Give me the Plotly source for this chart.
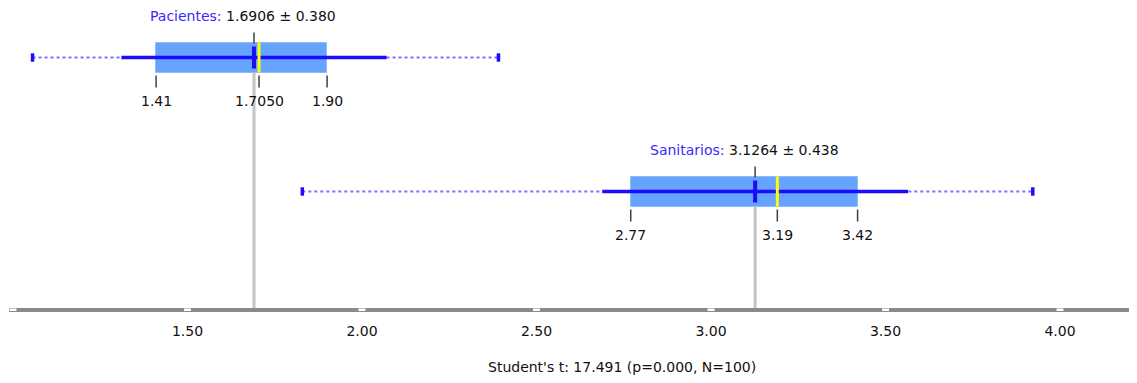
import plotly.graph_objects as go

# ---- data ----
groups = ["Pacientes", "Sanitarios"]
means = [1.6906, 3.1264]
sds = [0.380, 0.438]
q1 = [1.41, 2.77]
medians = [1.7050, 3.19]
q3 = [1.90, 3.42]
mins = [1.056, 1.829]
maxs = [2.391, 3.922]
q1_labels = ["1.41", "2.77"]
median_labels = ["1.7050", "3.19"]
q3_labels = ["1.90", "3.42"]
tick_vals = [1.0, 1.5, 2.0, 2.5, 3.0, 3.5, 4.0]
tick_text = ["", "1.50", "2.00", "2.50", "3.00", "3.50", "4.00"]
x_title = "Student's t: 17.491 (p=0.000, N=100)"

# ---- layout constants (page body has an 8px margin) ----
W, H = 1129, 375
ML, MR, MT, MB = 1, 0, 0, 75
PX = 134.0                       # pixels per y unit
ypos = [1, 0]
YMIN, YMAX = -0.8694, 1.3694
XRANGE = [0.98854, 4.2206]
FONT = "DejaVu Sans"
BLUE = "#1a0cff"
u = lambda p: p / PX

fig = go.Figure()

# grey vertical guide lines at the means
gx, gy = [], []
for m, y in zip(means, ypos):
    gx += [m, m, None]
    gy += [y - u(15), YMIN, None]
fig.add_trace(go.Scatter(x=gx, y=gy, mode="lines",
                         line=dict(color="#c4c4c4", width=3), hoverinfo="skip"))

# boxes (Q1..Q3)
fig.add_trace(go.Bar(orientation="h", base=q1,
                     x=[b - a for a, b in zip(q1, q3)], y=ypos,
                     width=u(30), marker=dict(color="#66a3ff",
                                              line=dict(color="#8cbcff", width=1)),
                     hoverinfo="skip"))

# dotted full range
dx, dy = [], []
for a, b, y in zip(mins, maxs, ypos):
    dx += [a, b, None]
    dy += [y, y, None]
fig.add_trace(go.Scatter(x=dx, y=dy, mode="lines",
                         line=dict(color="#7d70ff", width=2, dash="dot"),
                         hoverinfo="skip"))

# end markers
ex, ey = [], []
for a, b, y in zip(mins, maxs, ypos):
    ex += [a, b]
    ey += [y, y]
fig.add_trace(go.Scatter(x=ex, y=ey, mode="markers",
                         marker=dict(symbol="line-ns", size=6,
                                     line=dict(color=BLUE, width=3.5)),
                         hoverinfo="skip"))

# mean +- sd
sx, sy = [], []
for m, s, y in zip(means, sds, ypos):
    sx += [m - s, m + s, None]
    sy += [y, y, None]
fig.add_trace(go.Scatter(x=sx, y=sy, mode="lines",
                         line=dict(color=BLUE, width=3.5), hoverinfo="skip"))

# median (yellow)
mx, my = [], []
for md, y in zip(medians, ypos):
    mx += [md, md, None]
    my += [y - u(15), y + u(15), None]
fig.add_trace(go.Scatter(x=mx, y=my, mode="lines",
                         line=dict(color="#ffff00", width=3), hoverinfo="skip"))

# mean (blue vertical)
vx, vy = [], []
for m, y in zip(means, ypos):
    vx += [m, m, None]
    vy += [y - u(11), y + u(11), None]
fig.add_trace(go.Scatter(x=vx, y=vy, mode="lines",
                         line=dict(color=BLUE, width=4), hoverinfo="skip"))

# small dark ticks above mean and below q1/median/q3
tx, ty = [], []
for m, a, md, b, y in zip(means, q1, medians, q3, ypos):
    tx += [m, m, None]
    ty += [y + u(14), y + u(25), None]
    for v in (a, md, b):
        tx += [v, v, None]
        ty += [y - u(18), y - u(30), None]
fig.add_trace(go.Scatter(x=tx, y=ty, mode="lines",
                         line=dict(color="#404040", width=1.5), hoverinfo="skip"))

annotations = []
for g, m, s, y in zip(groups, means, sds, ypos):
    annotations.append(dict(
        x=m, y=y, xref="x", yref="y", showarrow=False, yshift=42, xshift=-11,
        text=f"<span style='color:#3c28ff'>{g}:</span> {m:.4f} ± {s:.3f}",
        font=dict(family=FONT, size=14, color="#111")))
for labs, vals in ((q1_labels, q1), (median_labels, medians), (q3_labels, q3)):
    for t, v, y in zip(labs, vals, ypos):
        annotations.append(dict(x=v, y=y, xref="x", yref="y", showarrow=False,
                                yshift=-43, text=t,
                                font=dict(family=FONT, size=14, color="#111")))
annotations.append(dict(x=(622 - 9) / 1128, y=0, xref="paper", yref="paper",
                        yanchor="middle", yshift=-59, showarrow=False, text=x_title,
                        font=dict(family=FONT, size=14, color="#111")))

# white tick notches on the axis bar
shapes = []
for tv in tick_vals:
    shapes.append(dict(type="rect", xref="x", yref="paper",
                       xsizemode="pixel", xanchor=tv, x0=-3.5, x1=3.5,
                       ysizemode="pixel", yanchor=0, y0=-0.5, y1=-3,
                       fillcolor="white", line=dict(width=0), layer="above"))

fig.update_layout(
    width=W, height=H, margin=dict(l=ML, r=MR, t=MT, b=MB),
    paper_bgcolor="white", plot_bgcolor="white", showlegend=False,
    annotations=annotations, shapes=shapes, bargap=0,
    xaxis=dict(range=XRANGE, showgrid=False, zeroline=False, showline=True,
               linecolor="#8a8a8a", linewidth=4, ticks="",
               tickvals=tick_vals, ticktext=tick_text, ticklabelstandoff=7,
               tickfont=dict(family=FONT, size=14, color="#111"), fixedrange=True),
    yaxis=dict(range=[YMIN, YMAX], visible=False, fixedrange=True),
)

fig.write_html("out.html")
